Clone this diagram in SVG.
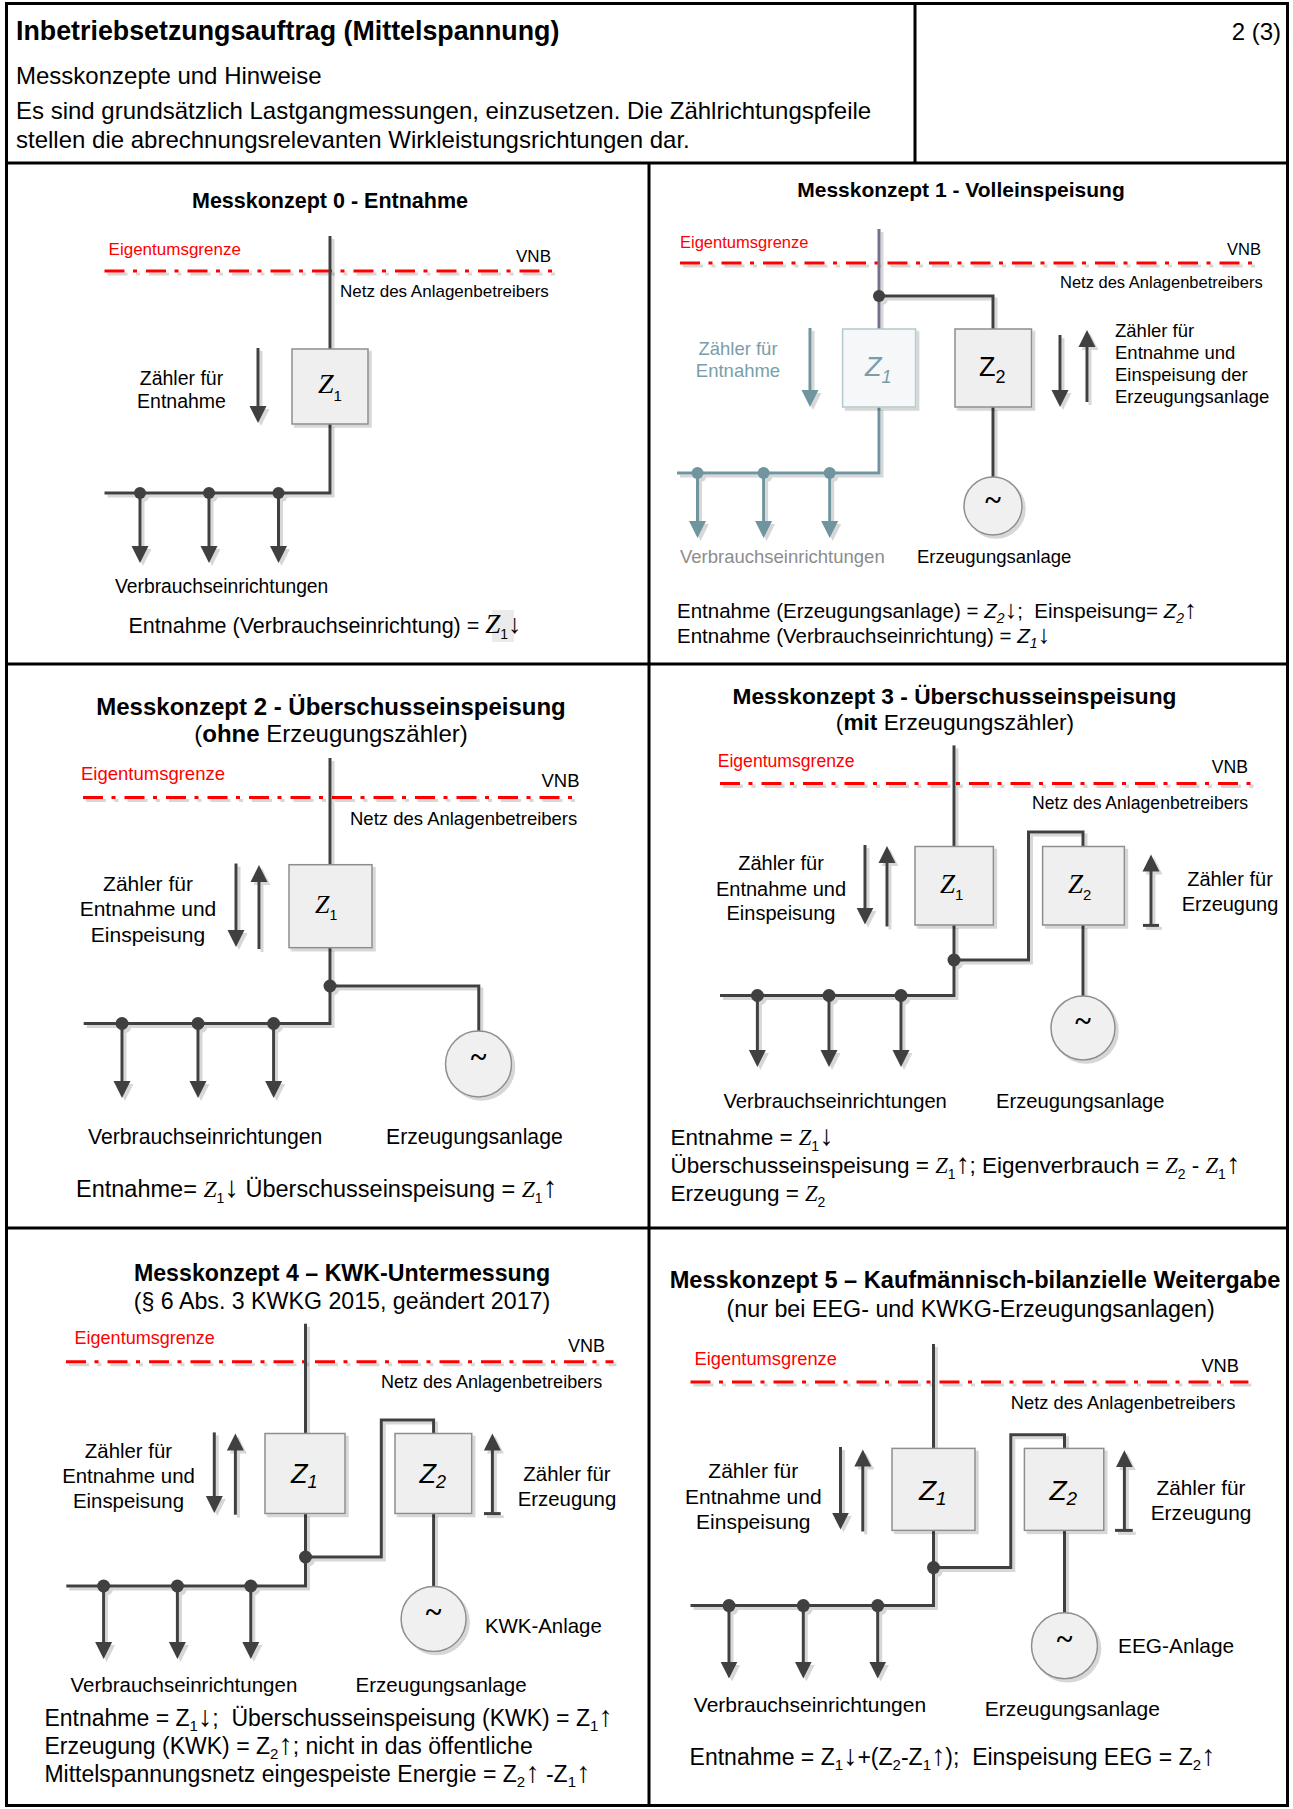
<svg xmlns="http://www.w3.org/2000/svg" width="1293" height="1809" viewBox="0 0 1293 1809">
<defs>
<style>
text{font-family:"Liberation Sans",Arial,sans-serif;fill:#000}
.b{font-weight:bold}
.tm{font-family:"Liberation Serif","Times New Roman",serif;font-style:italic}
.it{font-style:italic}
.ar{font-size:125%;font-style:normal}
.tl{font-family:"Liberation Serif","Times New Roman",serif;font-weight:bold;text-anchor:middle;font-size:30px}
.red{fill:#f00}
.teal{fill:#7a9ea8}
.grey{fill:#8c8c8c}
.mid{text-anchor:middle}
.end{text-anchor:end}
.grid{fill:none;stroke:#000;stroke-width:3}
.ln{fill:none;stroke:#404040;stroke-width:3}
.lt{fill:none;stroke:#6f959f;stroke-width:3}
.lp{fill:none;stroke:#76708c;stroke-width:3}
.eg{fill:none;stroke:#f00;stroke-width:3;stroke-dasharray:20 8.5 4 9}
.box{fill:#efefef;stroke:#8e8e8e;stroke-width:1.5}
.boxt{fill:#f5f7f8;stroke:#b3c9ce;stroke-width:1.5}
.gen{fill:#f0f0f0;stroke:#8e8e8e;stroke-width:1.5}
.dot{fill:#404040}
.dott{fill:#6f959f}
.arr{fill:none;stroke:#404040;stroke-width:3;marker-end:url(#ah)}
.art{fill:none;stroke:#6f959f;stroke-width:3;marker-end:url(#aht)}
.sh{filter:url(#sh)}
</style>
<filter id="sh" filterUnits="userSpaceOnUse" x="0" y="0" width="1293" height="1809">
<feOffset in="SourceAlpha" dx="2.5" dy="2.5"/>
<feComponentTransfer><feFuncA type="linear" slope="0.16"/></feComponentTransfer>
<feMerge><feMergeNode/><feMergeNode in="SourceGraphic"/></feMerge>
</filter>
<marker id="ah" markerUnits="userSpaceOnUse" markerWidth="18" markerHeight="18" viewBox="0 0 18 18" refX="5" refY="9" orient="auto"><path d="M0,0.5 L17,9 L0,17.5 Z" fill="#404040"/></marker>
<marker id="aht" markerUnits="userSpaceOnUse" markerWidth="18" markerHeight="18" viewBox="0 0 18 18" refX="5" refY="9" orient="auto"><path d="M0,0.5 L17,9 L0,17.5 Z" fill="#6f959f"/></marker>
</defs>
<rect width="1293" height="1809" fill="#fff"/>

<g id="frame">
<rect class="grid" x="6.5" y="3.5" width="1281" height="1802"/>
<line class="grid" x1="915" y1="3.5" x2="915" y2="163"/>
<line class="grid" x1="6.5" y1="163" x2="1287.5" y2="163"/>
<line class="grid" x1="649" y1="163" x2="649" y2="1805.5"/>
<line class="grid" x1="6.5" y1="664" x2="1287.5" y2="664"/>
<line class="grid" x1="6.5" y1="1228" x2="1287.5" y2="1228"/>
</g>

<g id="header">
<text class="b" x="16" y="40" font-size="26.8">Inbetriebsetzungsauftrag (Mittelspannung)</text>
<text class="end" x="1281" y="40" font-size="24">2 (3)</text>
<text x="16" y="84" font-size="24">Messkonzepte und Hinweise</text>
<text x="16" y="119" font-size="24">Es sind grundsätzlich Lastgangmessungen, einzusetzen. Die Zählrichtungspfeile</text>
<text x="16" y="148" font-size="24">stellen die abrechnungsrelevanten Wirkleistungsrichtungen dar.</text>
</g>

<!-- Panel 0 -->
<g id="p0">
<text class="b mid" x="330" y="208" font-size="21.5">Messkonzept 0 - Entnahme</text>
<g id="p0-boundary">
<text class="red" x="108.6" y="255" font-size="17">Eigentumsgrenze</text>
<line class="eg sh" x1="104.5" y1="271" x2="553" y2="271"/>
<text class="end" x="551" y="262" font-size="17">VNB</text>
<text x="340" y="297" font-size="17">Netz des Anlagenbetreibers</text>
</g>
<g id="p0-connectors" class="sh">
<line class="ln" x1="330" y1="236" x2="330" y2="349"/>
<path class="ln" d="M330,424 V493 H104.5"/>
<circle class="dot" cx="140" cy="493" r="6"/>
<circle class="dot" cx="209" cy="493" r="6"/>
<circle class="dot" cx="278.5" cy="493" r="6"/>
<line class="arr" x1="140" y1="493" x2="140" y2="551"/>
<line class="arr" x1="209" y1="493" x2="209" y2="551"/>
<line class="arr" x1="278.5" y1="493" x2="278.5" y2="551"/>
<line class="arr" x1="258" y1="348" x2="258" y2="411"/>
</g>
<g id="p0-z1">
<rect class="box sh" x="292" y="349" width="76" height="75"/>
<text x="318" y="393" font-size="28"><tspan class="tm">Z</tspan><tspan font-size="15" dy="8">1</tspan></text>
</g>
<g id="p0-label">
<text class="mid" x="181.5" y="385" font-size="19.5">Zähler für</text>
<text class="mid" x="181.5" y="408" font-size="19.5">Entnahme</text>
</g>
<text id="p0-consumers" x="115" y="593" font-size="19.3">Verbrauchseinrichtungen</text>
<rect x="492" y="610" width="22" height="32" fill="#ebebeb"/>
<text id="p0-formula" x="128.5" y="633" font-size="21.5">Entnahme (Verbrauchseinrichtung) = <tspan class="tm" font-size="27">Z</tspan><tspan font-size="14" dy="6">1</tspan><tspan dy="-6" class="ar">↓</tspan></text>
</g>

<!-- Panel 1 -->
<g id="p1">
<text class="b mid" x="961" y="197" font-size="21">Messkonzept 1 - Volleinspeisung</text>
<g id="p1-boundary">
<text class="red" x="680" y="248" font-size="16.5">Eigentumsgrenze</text>
<line class="eg sh" x1="680" y1="263" x2="1255" y2="263"/>
<text class="end" x="1261" y="255" font-size="16.5">VNB</text>
<text x="1060" y="288" font-size="16.5">Netz des Anlagenbetreibers</text>
</g>
<g id="p1-connectors" class="sh">
<line class="lp" x1="879" y1="229" x2="879" y2="329"/>
<path class="ln" d="M879,296 H993 V329"/>
<circle class="dot" cx="879" cy="296" r="6"/>
<path class="lt" d="M879,407 V473 H677"/>
<circle class="dott" cx="697.5" cy="473" r="6"/>
<circle class="dott" cx="763.6" cy="473" r="6"/>
<circle class="dott" cx="829.7" cy="473" r="6"/>
<line class="art" x1="697.5" y1="473" x2="697.5" y2="526"/>
<line class="art" x1="763.6" y1="473" x2="763.6" y2="526"/>
<line class="art" x1="829.7" y1="473" x2="829.7" y2="526"/>
<line class="art" x1="810" y1="328" x2="810" y2="395"/>
<line class="ln" x1="993" y1="407" x2="993" y2="477"/>
<line class="arr" x1="1060" y1="335" x2="1060" y2="395"/>
<line class="arr" x1="1087" y1="402" x2="1087" y2="342"/>
</g>
<g id="p1-z1">
<rect class="boxt sh" x="842.6" y="329" width="73" height="78"/>
<text class="it" x="865" y="376" font-size="27" style="fill:#7a9ca6">Z<tspan font-size="18" dy="7">1</tspan></text>
</g>
<g id="p1-z2">
<rect class="box sh" x="955" y="329" width="76.5" height="78"/>
<text x="979" y="376" font-size="27">Z<tspan font-size="18" dy="7">2</tspan></text>
</g>
<g id="p1-gen">
<circle class="gen sh" cx="993" cy="506" r="29"/>
<text class="tl" x="993" y="510">~</text>
</g>
<g id="p1-label1">
<text class="mid teal" x="738" y="355" font-size="18.5">Zähler für</text>
<text class="mid teal" x="738" y="377" font-size="18.5">Entnahme</text>
</g>
<g id="p1-label2">
<text x="1115" y="337" font-size="18.5">Zähler für</text>
<text x="1115" y="359" font-size="18.5">Entnahme und</text>
<text x="1115" y="381" font-size="18.5">Einspeisung der</text>
<text x="1115" y="403" font-size="18.5">Erzeugungsanlage</text>
</g>
<text id="p1-consumers" class="grey" x="680" y="563" font-size="18.5">Verbrauchseinrichtungen</text>
<text id="p1-genlabel" x="917" y="563" font-size="18.5">Erzeugungsanlage</text>
<g id="p1-formula">
<text x="677" y="618" font-size="20.5" xml:space="preserve">Entnahme (Erzeugungsanlage) = <tspan class="it">Z</tspan><tspan class="it" font-size="14" dy="5">2</tspan><tspan dy="-5" class="ar">↓</tspan><tspan>;  Einspeisung= </tspan><tspan class="it">Z</tspan><tspan class="it" font-size="14" dy="5">2</tspan><tspan dy="-5" class="ar">↑</tspan></text>
<text x="677" y="643" font-size="20.5">Entnahme (Verbrauchseinrichtung) = <tspan class="it">Z</tspan><tspan class="it" font-size="14" dy="5">1</tspan><tspan dy="-5" class="ar">↓</tspan></text>
</g>
</g>

<!-- Panel 2 -->
<g id="p2">
<text class="b mid" x="331" y="714.5" font-size="24">Messkonzept 2 - Überschusseinspeisung</text>
<text class="mid" x="331" y="742" font-size="24">(<tspan class="b">ohne</tspan> Erzeugungszähler)</text>
<g id="p2-boundary">
<text class="red" x="81" y="780" font-size="18.5">Eigentumsgrenze</text>
<line class="eg sh" x1="83" y1="797.4" x2="574" y2="797.4"/>
<text class="end" x="579.5" y="787" font-size="18.5">VNB</text>
<text x="350" y="825" font-size="18.5">Netz des Anlagenbetreibers</text>
</g>
<g id="p2-connectors" class="sh">
<line class="ln" x1="330" y1="758" x2="330" y2="864.7"/>
<path class="ln" d="M330,947.7 V1023.5 H83.7"/>
<path class="ln" d="M330,986 H478.8 V1031"/>
<circle class="dot" cx="330" cy="986" r="6.5"/>
<circle class="dot" cx="122" cy="1023.5" r="6.5"/>
<circle class="dot" cx="198" cy="1023.5" r="6.5"/>
<circle class="dot" cx="273.6" cy="1023.5" r="6.5"/>
<line class="arr" x1="122" y1="1023.5" x2="122" y2="1086"/>
<line class="arr" x1="198" y1="1023.5" x2="198" y2="1086"/>
<line class="arr" x1="273.6" y1="1023.5" x2="273.6" y2="1086"/>
<line class="arr" x1="236" y1="863.5" x2="236" y2="935"/>
<line class="arr" x1="259" y1="949" x2="259" y2="877"/>
</g>
<g id="p2-z1">
<rect class="box sh" x="289" y="864.7" width="83" height="83"/>
<text x="315" y="912.6" font-size="26"><tspan class="tm">Z</tspan><tspan font-size="14" dy="7">1</tspan></text>
</g>
<g id="p2-gen">
<circle class="gen sh" cx="478.5" cy="1064" r="33"/>
<text class="tl" x="478.5" y="1067">~</text>
</g>
<g id="p2-label">
<text class="mid" x="148" y="891" font-size="21">Zähler für</text>
<text class="mid" x="148" y="916" font-size="21">Entnahme und</text>
<text class="mid" x="148" y="942" font-size="21">Einspeisung</text>
</g>
<text id="p2-consumers" x="88" y="1143.5" font-size="21.2">Verbrauchseinrichtungen</text>
<text id="p2-genlabel" x="386" y="1143.5" font-size="21.2">Erzeugungsanlage</text>
<text id="p2-formula" x="76" y="1197" font-size="23.5">Entnahme= <tspan class="tm">Z</tspan><tspan font-size="14" dy="6">1</tspan><tspan dy="-6" class="ar">↓</tspan><tspan> Überschusseinspeisung = </tspan><tspan class="tm">Z</tspan><tspan font-size="14" dy="6">1</tspan><tspan dy="-6" class="ar">↑</tspan></text>
</g>

<!-- Panel 3 -->
<g id="p3">
<text class="b mid" x="954.5" y="703.6" font-size="22.7">Messkonzept 3 - Überschusseinspeisung</text>
<text class="mid" x="955" y="730" font-size="22.7">(<tspan class="b">mit</tspan> Erzeugungszähler)</text>
<g id="p3-boundary">
<text class="red" x="717.7" y="766.5" font-size="17.6">Eigentumsgrenze</text>
<line class="eg sh" x1="720" y1="783.6" x2="1256" y2="783.6"/>
<text class="end" x="1248" y="773" font-size="17.6">VNB</text>
<text x="1032" y="809" font-size="17.6">Netz des Anlagenbetreibers</text>
</g>
<g id="p3-connectors" class="sh">
<line class="ln" x1="954" y1="745.4" x2="954" y2="846.5"/>
<path class="ln" d="M1083,846.5 V832 H1028.5 V960 H954"/>
<path class="ln" d="M954,925 V995.5 H720"/>
<circle class="dot" cx="954" cy="960" r="6.5"/>
<circle class="dot" cx="757.4" cy="995.5" r="6.5"/>
<circle class="dot" cx="829" cy="995.5" r="6.5"/>
<circle class="dot" cx="901" cy="995.5" r="6.5"/>
<line class="arr" x1="757.4" y1="995.5" x2="757.4" y2="1055"/>
<line class="arr" x1="829" y1="995.5" x2="829" y2="1055"/>
<line class="arr" x1="901" y1="995.5" x2="901" y2="1055"/>
<line class="arr" x1="865" y1="845" x2="865" y2="912.6"/>
<line class="arr" x1="887" y1="926.5" x2="887" y2="858"/>
<line class="ln" x1="1083" y1="925" x2="1083" y2="996"/>
<line class="arr" x1="1151" y1="925.4" x2="1151" y2="866.5"/>
<line class="ln" x1="1143" y1="925.4" x2="1159" y2="925.4"/>
</g>
<g id="p3-z1">
<rect class="box sh" x="915" y="846.5" width="78.4" height="78.5"/>
<text x="940" y="892.6" font-size="27"><tspan class="tm">Z</tspan><tspan font-size="15" dy="7">1</tspan></text>
</g>
<g id="p3-z2">
<rect class="box sh" x="1042.6" y="846.5" width="81.8" height="78.5"/>
<text x="1068" y="892.6" font-size="27"><tspan class="tm">Z</tspan><tspan font-size="15" dy="7">2</tspan></text>
</g>
<g id="p3-gen">
<circle class="gen sh" cx="1083" cy="1028" r="32"/>
<text class="tl" x="1083" y="1031">~</text>
</g>
<g id="p3-label1">
<text class="mid" x="781" y="870" font-size="20">Zähler für</text>
<text class="mid" x="781" y="895.5" font-size="20">Entnahme und</text>
<text class="mid" x="781" y="920" font-size="20">Einspeisung</text>
</g>
<g id="p3-label2">
<text class="mid" x="1230" y="886" font-size="20">Zähler für</text>
<text class="mid" x="1230" y="911" font-size="20">Erzeugung</text>
</g>
<text id="p3-consumers" x="723.5" y="1108" font-size="20.2">Verbrauchseinrichtungen</text>
<text id="p3-genlabel" x="996" y="1108" font-size="20.2">Erzeugungsanlage</text>
<g id="p3-formula">
<text x="670.6" y="1145" font-size="22.5">Entnahme = <tspan class="tm">Z</tspan><tspan font-size="14" dy="6">1</tspan><tspan dy="-6" class="ar">↓</tspan></text>
<text x="670.6" y="1172.5" font-size="22.5">Überschusseinspeisung = <tspan class="tm">Z</tspan><tspan font-size="14" dy="6">1</tspan><tspan dy="-6" class="ar">↑</tspan><tspan>; Eigenverbrauch = </tspan><tspan class="tm">Z</tspan><tspan font-size="14" dy="6">2</tspan><tspan dy="-6"> - </tspan><tspan class="tm">Z</tspan><tspan font-size="14" dy="6">1</tspan><tspan dy="-6" class="ar">↑</tspan></text>
<text x="670.6" y="1200.5" font-size="22.5">Erzeugung = <tspan class="tm">Z</tspan><tspan font-size="14" dy="6">2</tspan></text>
</g>
</g>

<!-- Panel 4 -->
<g id="p4">
<text class="b mid" x="342" y="1281" font-size="23.2">Messkonzept 4 – KWK-Untermessung</text>
<text class="mid" x="342" y="1309" font-size="23.2">(§ 6 Abs. 3 KWKG 2015, geändert 2017)</text>
<g id="p4-boundary">
<text class="red" x="74.6" y="1344" font-size="18">Eigentumsgrenze</text>
<line class="eg sh" x1="66" y1="1361.7" x2="613.5" y2="1361.7"/>
<text class="end" x="605" y="1351.6" font-size="18">VNB</text>
<text x="381" y="1387.7" font-size="18">Netz des Anlagenbetreibers</text>
</g>
<g id="p4-connectors" class="sh">
<line class="ln" x1="305.5" y1="1323.7" x2="305.5" y2="1433.5"/>
<path class="ln" d="M433.6,1433.5 V1420 H381.3 V1557 H305.5"/>
<path class="ln" d="M305.5,1513.6 V1586 H66.3"/>
<circle class="dot" cx="305.5" cy="1557" r="6.5"/>
<circle class="dot" cx="103.6" cy="1586" r="6.5"/>
<circle class="dot" cx="177.4" cy="1586" r="6.5"/>
<circle class="dot" cx="250.8" cy="1586" r="6.5"/>
<line class="arr" x1="103.6" y1="1586" x2="103.6" y2="1647"/>
<line class="arr" x1="177.4" y1="1586" x2="177.4" y2="1647"/>
<line class="arr" x1="250.8" y1="1586" x2="250.8" y2="1647"/>
<line class="arr" x1="214.3" y1="1432.4" x2="214.3" y2="1501"/>
<line class="arr" x1="235.4" y1="1514.7" x2="235.4" y2="1445.5"/>
<line class="ln" x1="433.6" y1="1513.6" x2="433.6" y2="1587"/>
<line class="arr" x1="492.4" y1="1513.6" x2="492.4" y2="1445.5"/>
<line class="ln" x1="484" y1="1513.6" x2="500.7" y2="1513.6"/>
</g>
<g id="p4-z1">
<rect class="box sh" x="265" y="1433.5" width="80" height="80"/>
<text class="it" x="291" y="1483" font-size="27">Z<tspan font-size="18" dy="5">1</tspan></text>
</g>
<g id="p4-z2">
<rect class="box sh" x="395" y="1433.5" width="76.7" height="80"/>
<text class="it" x="419.5" y="1483" font-size="27">Z<tspan font-size="18" dy="5">2</tspan></text>
</g>
<g id="p4-gen">
<circle class="gen sh" cx="433.6" cy="1619" r="32.5"/>
<text class="tl" x="433.6" y="1622">~</text>
</g>
<g id="p4-label1">
<text class="mid" x="128.5" y="1457.7" font-size="20.4">Zähler für</text>
<text class="mid" x="128.5" y="1482.7" font-size="20.4">Entnahme und</text>
<text class="mid" x="128.5" y="1508" font-size="20.4">Einspeisung</text>
</g>
<g id="p4-label2">
<text class="mid" x="567" y="1481" font-size="20.4">Zähler für</text>
<text class="mid" x="567" y="1506" font-size="20.4">Erzeugung</text>
</g>
<text id="p4-kwk" x="485" y="1632.8" font-size="20.4">KWK-Anlage</text>
<text id="p4-consumers" x="70.5" y="1691.6" font-size="20.5">Verbrauchseinrichtungen</text>
<text id="p4-genlabel" x="355.6" y="1691.6" font-size="20.5">Erzeugungsanlage</text>
<g id="p4-formula">
<text x="44.4" y="1726" font-size="23" xml:space="preserve">Entnahme = Z<tspan font-size="15" dy="5">1</tspan><tspan dy="-5" class="ar">↓</tspan><tspan>;  Überschusseinspeisung (KWK) = Z</tspan><tspan font-size="15" dy="5">1</tspan><tspan dy="-5" class="ar">↑</tspan></text>
<text x="44.4" y="1754" font-size="23">Erzeugung (KWK) = Z<tspan font-size="15" dy="5">2</tspan><tspan dy="-5" class="ar">↑</tspan><tspan>; nicht in das öffentliche</tspan></text>
<text x="44.4" y="1782" font-size="23" xml:space="preserve">Mittelspannungsnetz eingespeiste Energie = Z<tspan font-size="15" dy="5">2</tspan><tspan dy="-5" class="ar">↑</tspan><tspan> -Z</tspan><tspan font-size="15" dy="5">1</tspan><tspan dy="-5" class="ar">↑</tspan></text>
</g>
</g>

<!-- Panel 5 -->
<g id="p5">
<text class="b mid" x="975" y="1288.3" font-size="23.6">Messkonzept 5 – Kaufmännisch-bilanzielle Weitergabe</text>
<text class="mid" x="970.6" y="1317.4" font-size="23.3">(nur bei EEG- und KWKG-Erzeugungsanlagen)</text>
<g id="p5-boundary">
<text class="red" x="694.6" y="1364.7" font-size="18.3">Eigentumsgrenze</text>
<line class="eg sh" x1="690.5" y1="1382" x2="1248.4" y2="1382"/>
<text class="end" x="1239" y="1372" font-size="18.3">VNB</text>
<text x="1010.8" y="1408.6" font-size="18.3">Netz des Anlagenbetreibers</text>
</g>
<g id="p5-connectors" class="sh">
<line class="ln" x1="933.5" y1="1344" x2="933.5" y2="1448.4"/>
<path class="ln" d="M1064.5,1448.4 V1434.7 H1010.8 V1567.6 H933.5"/>
<path class="ln" d="M933.5,1530.4 V1605.6 H690.5"/>
<circle class="dot" cx="933.5" cy="1567.6" r="6.5"/>
<circle class="dot" cx="729" cy="1605.6" r="6.5"/>
<circle class="dot" cx="803.3" cy="1605.6" r="6.5"/>
<circle class="dot" cx="877.7" cy="1605.6" r="6.5"/>
<line class="arr" x1="729" y1="1605.6" x2="729" y2="1666.6"/>
<line class="arr" x1="803.3" y1="1605.6" x2="803.3" y2="1666.6"/>
<line class="arr" x1="877.7" y1="1605.6" x2="877.7" y2="1666.6"/>
<line class="arr" x1="840.5" y1="1447" x2="840.5" y2="1517.6"/>
<line class="arr" x1="862.8" y1="1531.5" x2="862.8" y2="1461.5"/>
<line class="ln" x1="1064.5" y1="1530.4" x2="1064.5" y2="1613"/>
<line class="arr" x1="1124.4" y1="1530.4" x2="1124.4" y2="1462.3"/>
<line class="ln" x1="1115" y1="1530.4" x2="1132.7" y2="1530.4"/>
</g>
<g id="p5-z1">
<rect class="box sh" x="892" y="1448.4" width="83" height="82"/>
<text class="it" x="919" y="1500" font-size="28">Z<tspan font-size="19" dy="5">1</tspan></text>
</g>
<g id="p5-z2">
<rect class="box sh" x="1024.4" y="1448.4" width="79.4" height="82"/>
<text class="it" x="1049.5" y="1500" font-size="28">Z<tspan font-size="19" dy="5">2</tspan></text>
</g>
<g id="p5-gen">
<circle class="gen sh" cx="1064.5" cy="1645.8" r="33"/>
<text class="tl" x="1064.5" y="1649">~</text>
</g>
<g id="p5-label1">
<text class="mid" x="753.3" y="1478" font-size="21">Zähler für</text>
<text class="mid" x="753.3" y="1503.6" font-size="21">Entnahme und</text>
<text class="mid" x="753.3" y="1528.5" font-size="21">Einspeisung</text>
</g>
<g id="p5-label2">
<text class="mid" x="1201" y="1495" font-size="20.8">Zähler für</text>
<text class="mid" x="1201" y="1520.3" font-size="20.8">Erzeugung</text>
</g>
<text id="p5-eeg" x="1118" y="1652.5" font-size="20.9">EEG-Anlage</text>
<text id="p5-consumers" x="693.8" y="1711.7" font-size="21">Verbrauchseinrichtungen</text>
<text id="p5-genlabel" x="984.7" y="1715.8" font-size="21">Erzeugungsanlage</text>
<text id="p5-formula" x="689.6" y="1765" font-size="23" xml:space="preserve">Entnahme = Z<tspan font-size="15" dy="5">1</tspan><tspan dy="-5" class="ar">↓</tspan><tspan>+(Z</tspan><tspan font-size="15" dy="5">2</tspan><tspan dy="-5">-Z</tspan><tspan font-size="15" dy="5">1</tspan><tspan dy="-5" class="ar">↑</tspan><tspan>);  Einspeisung EEG = Z</tspan><tspan font-size="15" dy="5">2</tspan><tspan dy="-5" class="ar">↑</tspan></text>
</g>
</svg>
